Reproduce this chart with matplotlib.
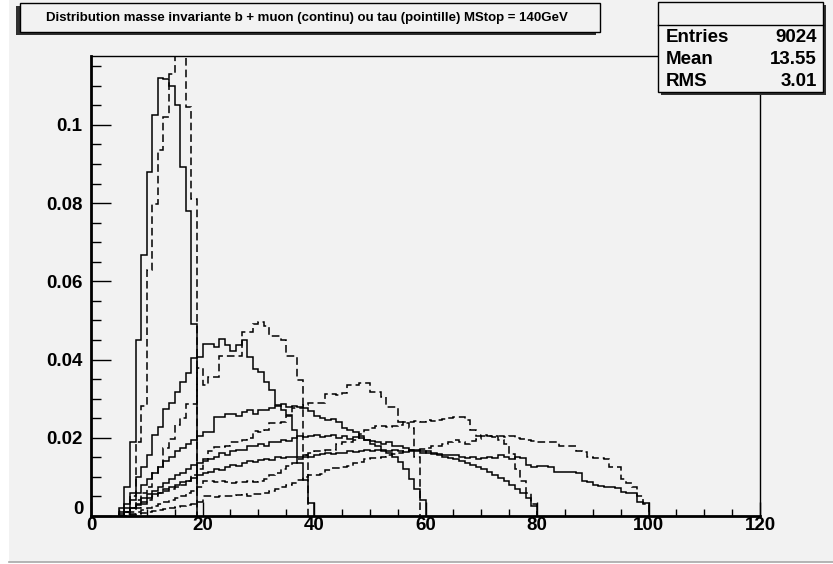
import numpy as np
import matplotlib
matplotlib.use("Agg")
from matplotlib import pyplot as plt
from matplotlib.patches import Rectangle
from matplotlib.ticker import MultipleLocator

# b + lepton invariant mass, 1 GeV bins, normalised; first listed bin starts at 5 GeV
first_bin = 5

# solid: b + muon
muon_a = [0.002, 0.0074, 0.019, 0.045, 0.0666, 0.088, 0.1025, 0.112, 0.1117, 0.110,
          0.105, 0.0893, 0.078, 0.049]
muon_b = [0.001, 0.003, 0.006, 0.010, 0.0125, 0.0156, 0.0207, 0.0228, 0.0273, 0.0288,
          0.0316, 0.0343, 0.0366, 0.0405, 0.0407, 0.044, 0.044, 0.0432, 0.0453, 0.0436,
          0.0423, 0.0436, 0.0451, 0.0407, 0.0375, 0.0368, 0.0343, 0.0323, 0.0283, 0.027,
          0.0258, 0.022, 0.0135, 0.0092, 0.0033]
muon_c = [0.0005, 0.002, 0.004, 0.006, 0.008, 0.0095, 0.011, 0.0125, 0.014, 0.015,
          0.0165, 0.0175, 0.0185, 0.0195, 0.0205, 0.0215, 0.0215, 0.0253, 0.0253, 0.0262,
          0.0262, 0.0255, 0.0265, 0.027, 0.026, 0.027, 0.0272, 0.0275, 0.028, 0.0286,
          0.0278, 0.028, 0.0279, 0.0275, 0.0268, 0.0255, 0.025, 0.0245, 0.0248, 0.024,
          0.0225, 0.022, 0.0215, 0.0205, 0.0195, 0.0185, 0.0178, 0.0168, 0.016, 0.015,
          0.0138, 0.012, 0.0095, 0.007, 0.004]
muon_d = [0.0, 0.001, 0.002, 0.003, 0.0045, 0.0055, 0.0065, 0.0075, 0.0085, 0.0095,
          0.0105, 0.011, 0.012, 0.013, 0.0135, 0.014, 0.0145, 0.015, 0.016, 0.0155,
          0.0165, 0.017, 0.0168, 0.0178, 0.018, 0.0185, 0.018, 0.0188, 0.019, 0.0195,
          0.0192, 0.020, 0.0205, 0.0202, 0.0205, 0.0207, 0.0203, 0.0205, 0.0208, 0.020,
          0.0205, 0.0198, 0.0202, 0.020, 0.0195, 0.0192, 0.019, 0.0185, 0.0188, 0.018,
          0.0178, 0.0175, 0.017, 0.0168, 0.0165, 0.016, 0.0158, 0.0155, 0.015, 0.0148,
          0.0145, 0.014, 0.0135, 0.013, 0.0125, 0.012, 0.0112, 0.0105, 0.0098, 0.009,
          0.008, 0.007, 0.0058, 0.0045, 0.0025]
muon_e = [0.0, 0.001, 0.002, 0.0028, 0.0035, 0.0045, 0.0055, 0.006, 0.0068, 0.0075,
          0.008, 0.0088, 0.009, 0.0098, 0.0105, 0.011, 0.0112, 0.012, 0.0118, 0.0125,
          0.013, 0.0128, 0.0135, 0.014, 0.0138, 0.0142, 0.0145, 0.0143, 0.015, 0.0148,
          0.015, 0.0152, 0.015, 0.0155, 0.0152, 0.0155, 0.0158, 0.016, 0.0158, 0.0162,
          0.016, 0.0165, 0.0163, 0.0166, 0.0168, 0.0165, 0.0168, 0.0166, 0.0165, 0.0168,
          0.0165, 0.0163, 0.0166, 0.0165, 0.0162, 0.0165, 0.016, 0.0158, 0.0155, 0.0156,
          0.0155, 0.015, 0.0148, 0.015, 0.0146, 0.0148, 0.0152, 0.0148, 0.0155, 0.015,
          0.0145, 0.0152, 0.0148, 0.013, 0.0125, 0.0128, 0.0128, 0.0125, 0.0113, 0.0113,
          0.0112, 0.0113, 0.011, 0.009, 0.0088, 0.0078, 0.0077, 0.0075, 0.0074, 0.0072,
          0.0062, 0.006, 0.0058, 0.0035, 0.0033]

# dashed: b + tau
tau_a = [0.0, 0.001, 0.005, 0.019, 0.028, 0.0628, 0.0798, 0.0935, 0.1019, 0.1129,
         0.125, 0.13, 0.1046, 0.081]
tau_b = [0.0, 0.001, 0.002, 0.004, 0.006, 0.0075, 0.011, 0.0126, 0.0173, 0.0198,
         0.0232, 0.025, 0.0286, 0.0286, 0.0378, 0.0334, 0.0355, 0.0355, 0.041, 0.041,
         0.041, 0.041, 0.047, 0.047, 0.049, 0.0495, 0.0485, 0.046, 0.046, 0.045,
         0.041, 0.041, 0.0347, 0.015]
tau_c = [0.0, 0.0005, 0.001, 0.002, 0.003, 0.004, 0.005, 0.006, 0.0065, 0.007,
         0.0075, 0.008, 0.009, 0.0105, 0.012, 0.0145, 0.0165, 0.0176, 0.0176, 0.018,
         0.019, 0.019, 0.0195, 0.020, 0.0217, 0.0215, 0.022, 0.0237, 0.0237, 0.024,
         0.0255, 0.0275, 0.0275, 0.0285, 0.0288, 0.0288, 0.029, 0.0313, 0.0313, 0.031,
         0.0315, 0.0334, 0.0334, 0.034, 0.034, 0.0316, 0.0316, 0.0305, 0.0278, 0.0278,
         0.024, 0.0237, 0.0225, 0.015]
tau_d = [0.0, 0.0, 0.0005, 0.001, 0.0015, 0.002, 0.0025, 0.003, 0.0035, 0.004,
         0.0045, 0.005, 0.0058, 0.0065, 0.0075, 0.009, 0.009, 0.0088, 0.009, 0.0088,
         0.0085, 0.0087, 0.0088, 0.009, 0.0088, 0.009, 0.0095, 0.0105, 0.011, 0.012,
         0.0128, 0.0135, 0.0145, 0.0155, 0.0162, 0.0165, 0.0165, 0.0168, 0.017, 0.0185,
         0.019, 0.019, 0.0195, 0.021, 0.022, 0.0225, 0.023, 0.023, 0.0228, 0.023,
         0.0232, 0.024, 0.024, 0.0242, 0.024, 0.0245, 0.0243, 0.0245, 0.0248, 0.025,
         0.0252, 0.0252, 0.0245, 0.022, 0.0205, 0.0207, 0.0204, 0.0204, 0.0195, 0.0185,
         0.0158, 0.012, 0.009, 0.006, 0.003]
tau_e = [0.0, 0.0, 0.0003, 0.0005, 0.0008, 0.001, 0.0012, 0.0015, 0.0018, 0.002,
         0.0022, 0.0025, 0.0028, 0.003, 0.0035, 0.005, 0.005, 0.0048, 0.005, 0.0052,
         0.005, 0.0053, 0.0055, 0.0052, 0.0055, 0.0055, 0.006, 0.0065, 0.007, 0.0075,
         0.008, 0.0085, 0.0092, 0.010, 0.0105, 0.0105, 0.0108, 0.0118, 0.0122, 0.0122,
         0.0125, 0.0128, 0.0135, 0.0138, 0.0145, 0.0148, 0.0148, 0.015, 0.0155, 0.0158,
         0.016, 0.0165, 0.017, 0.017, 0.0172, 0.0175, 0.0178, 0.018, 0.0185, 0.019,
         0.0194, 0.019, 0.0185, 0.0192, 0.0198, 0.0204, 0.0205, 0.0203, 0.0205, 0.0202,
         0.0205, 0.020, 0.0198, 0.0195, 0.0192, 0.019, 0.019, 0.0188, 0.019, 0.018,
         0.018, 0.018, 0.0165, 0.0163, 0.015, 0.0148, 0.0148, 0.0145, 0.0125, 0.0125,
         0.0094, 0.0085, 0.0075, 0.005, 0.003]

title = "Distribution masse invariante b + muon (continu) ou tau (pointille) MStop = 140GeV"
stat_names = ["Entries", "Mean", "RMS"]
stat_values = ["9024", "13.55", "3.01"]
x_ticks = [0, 20, 40, 60, 80, 100, 120]
y_ticks = [0, 0.02, 0.04, 0.06, 0.08, 0.1]
y_tick_labels = ["", "0.02", "0.04", "0.06", "0.08", "0.1"]

BG = "#f2f2f2"
W, H = 833, 564


def draw_hist(ax, values, style):
    edges = first_bin + np.arange(len(values) + 1)
    ax.stairs(values, edges, baseline=0, color="black", lw=1.1,
              linestyle=style)


def main():
    plt.rcParams["font.family"] = ["Liberation Sans", "DejaVu Sans"]
    plt.rcParams["font.weight"] = "bold"

    fig = plt.figure(figsize=(W / 100, H / 100), dpi=100, facecolor=BG)

    ax = fig.add_axes([91 / W, 48 / H, 669 / W, 460 / H])
    ax.set_facecolor(BG)
    for vals in [muon_a, muon_b, muon_c, muon_d, muon_e]:
        draw_hist(ax, vals, "-")
    for vals in [tau_a, tau_b, tau_c, tau_d, tau_e]:
        draw_hist(ax, vals, (0, (5, 2.6)))

    ax.set_xlim(0, 120)
    ax.set_ylim(0, 0.1176)
    ax.set_xticks(x_ticks)
    ax.set_xticklabels([str(t) for t in x_ticks], fontweight="bold")
    ax.set_yticks(y_ticks)
    ax.set_yticklabels(y_tick_labels, fontweight="bold")
    ax.xaxis.set_minor_locator(MultipleLocator(5))
    ax.yaxis.set_minor_locator(MultipleLocator(0.005))
    ax.tick_params(axis="y", which="major", direction="in", length=14.4,
                   width=1, labelsize=13.5, pad=6)
    ax.tick_params(axis="y", which="minor", direction="in", length=7.2, width=1)
    ax.tick_params(axis="x", which="major", direction="in", length=10,
                   width=1, labelsize=13.5, pad=1)
    ax.tick_params(axis="x", which="minor", direction="in", length=5, width=1)
    for side in ["left", "bottom"]:
        ax.spines[side].set_linewidth(2)
    for side in ["top", "right"]:
        ax.spines[side].set_linewidth(1)

    # overlay in pixel coordinates for the canvas decorations
    ov = fig.add_axes([0, 0, 1, 1], zorder=5)
    ov.set_xlim(0, W)
    ov.set_ylim(H, 0)
    ov.axis("off")
    ov.patch.set_alpha(0)

    ov.add_patch(Rectangle((0, 0), 9, H, color="white", lw=0))
    ov.add_patch(Rectangle((0, 562), W, 2, color="white", lw=0))
    ov.plot([9, W], [561.5, 561.5], color="#a8a8a8", lw=1.2)

    # y-axis zero label sits a little above the axis, ROOT style
    ov.text(84, 510, "0", ha="right", va="center", fontsize=13.5,
            fontweight="bold")

    # title pave
    ov.add_patch(Rectangle((16, 6), 580, 29, facecolor="#303030", lw=0))
    ov.add_patch(Rectangle((20, 3), 580, 29, facecolor=BG,
                           edgecolor="black", lw=1))
    ov.text(307, 18, title, ha="center", va="center", fontsize=9.5,
            fontweight="bold")

    # stats pave
    ov.add_patch(Rectangle((661, 5), 165, 90, facecolor="#303030", lw=0))
    ov.add_patch(Rectangle((658, 2), 165, 90, facecolor=BG,
                           edgecolor="black", lw=1))
    ov.plot([658, 823], [24.5, 24.5], color="black", lw=1)
    rows_y = [37.5, 60, 82]
    for name, val, y in zip(stat_names, stat_values, rows_y):
        ov.text(666, y, name, ha="left", va="center", fontsize=13.5,
                fontweight="bold")
        ov.text(817, y, val, ha="right", va="center", fontsize=13.5,
                fontweight="bold")

    fig.savefig("out.png", dpi=100, facecolor=BG)


if __name__ == "__main__":
    main()
